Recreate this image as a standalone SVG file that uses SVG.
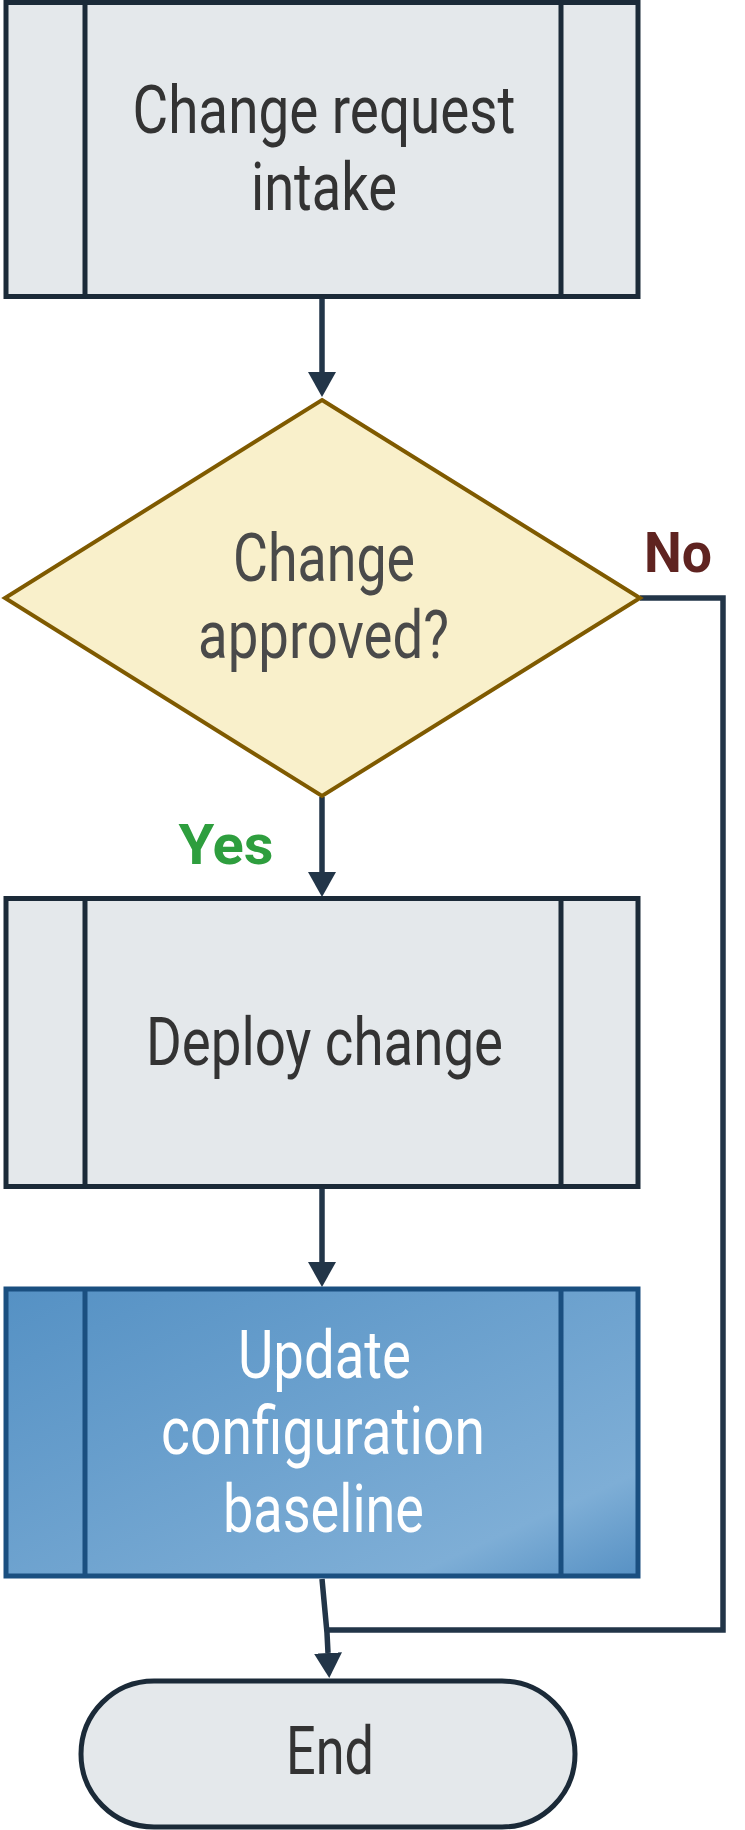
<svg xmlns="http://www.w3.org/2000/svg" width="745" height="1830" viewBox="0 0 745 1830">
<style>
.box{fill:#e4e8eb;stroke:#1b2a38;stroke-width:5}
.div{stroke:#1b2a38;stroke-width:5}
.t{font-family:Roboto,"Liberation Sans",sans-serif;font-size:66px;text-anchor:middle}
.dark{fill:#333333}
.conn{fill:none;stroke:#223548;stroke-width:5.5}
.lbl{font-family:Roboto,"Liberation Sans",sans-serif;font-weight:bold;font-size:56px;text-anchor:middle}
</style>
<defs>
<marker id="ah" markerUnits="userSpaceOnUse" markerWidth="25" markerHeight="28" refX="0" refY="14" orient="auto" viewBox="0 0 25 28">
<path d="M0,0 L25,14 L0,28 z" fill="#223548"/>
</marker>
<linearGradient id="blue" x1="0" y1="0" x2="1" y2="1">
<stop offset="0" stop-color="#5591c4"/>
<stop offset="0.82" stop-color="#7eaed6"/>
<stop offset="1" stop-color="#5791c4"/>
</linearGradient>
</defs>
<g id="connectors">
<path class="conn" d="M322,299 L322,372" marker-end="url(#ah)"/>
<path class="conn" d="M322,797 L322,872" marker-end="url(#ah)"/>
<path class="conn" d="M322,1189 L322,1262" marker-end="url(#ah)"/>
<path class="conn" d="M322,1579 L327,1633 L328,1653" marker-end="url(#ah)"/>
<path class="conn" d="M640,598 L723,598 L723,1630 L328,1630"/>
<text class="lbl" x="678" y="572" fill="#5f2320" textLength="68" lengthAdjust="spacingAndGlyphs">No</text>
<text class="lbl" x="226" y="864" fill="#2e9e3e" textLength="95" lengthAdjust="spacingAndGlyphs">Yes</text>
</g>
<g id="intake">
<rect class="box" x="6" y="2.5" width="632" height="294"/>
<line class="div" x1="85" y1="2.5" x2="85" y2="296.5"/>
<line class="div" x1="561" y1="2.5" x2="561" y2="296.5"/>
<text class="t dark" x="324" y="133" textLength="383" lengthAdjust="spacingAndGlyphs">Change request</text>
<text class="t dark" x="324" y="210" textLength="146" lengthAdjust="spacingAndGlyphs">intake</text>
</g>
<g id="approved">
<polygon points="322,400 640,598 322,796 5,598" fill="#f9f0cb" stroke="#7f5a00" stroke-width="4"/>
<text class="t" fill="#4a4a4a" x="324" y="581" textLength="182" lengthAdjust="spacingAndGlyphs">Change</text>
<text class="t" fill="#4a4a4a" x="323.5" y="658" textLength="251" lengthAdjust="spacingAndGlyphs">approved?</text>
</g>
<g id="deploy">
<rect class="box" x="6" y="898.5" width="632" height="288"/>
<line class="div" x1="85" y1="898.5" x2="85" y2="1186.5"/>
<line class="div" x1="561" y1="898.5" x2="561" y2="1186.5"/>
<text class="t dark" x="324.5" y="1065" textLength="357" lengthAdjust="spacingAndGlyphs">Deploy change</text>
</g>
<g id="update">
<rect x="6" y="1289" width="632" height="287" fill="url(#blue)" stroke="#1a4f80" stroke-width="5"/>
<line x1="85" y1="1289" x2="85" y2="1576" stroke="#1a4f80" stroke-width="5"/>
<line x1="561" y1="1289" x2="561" y2="1576" stroke="#1a4f80" stroke-width="5"/>
<text class="t" fill="#ffffff" x="324.5" y="1378" textLength="173" lengthAdjust="spacingAndGlyphs">Update</text>
<text class="t" fill="#ffffff" x="323" y="1454" textLength="324" lengthAdjust="spacingAndGlyphs">configuration</text>
<text class="t" fill="#ffffff" x="323.5" y="1532" textLength="201" lengthAdjust="spacingAndGlyphs">baseline</text>
</g>
<g id="end">
<rect class="box" x="81" y="1681" width="494" height="146" rx="73" ry="73"/>
<text class="t dark" x="330" y="1774" textLength="88" lengthAdjust="spacingAndGlyphs">End</text>
</g>
</svg>
